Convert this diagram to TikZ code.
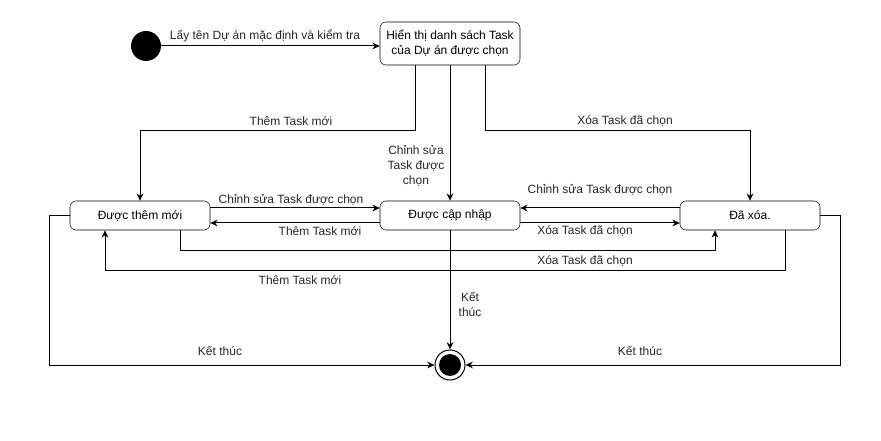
\documentclass[tikz,border=0pt]{standalone}
\usepackage{fontspec}
\setmainfont{Liberation Sans}
\usetikzlibrary{calc,arrows.meta}

\begin{document}
\begin{tikzpicture}[x = 0.75pt, y = -0.75pt, font = \fontsize{9pt}{11.2pt}\selectfont]
\tikzstyle{StateStyle}=[draw, rounded corners = 4.5pt,
                        minimum width = 105pt,
                        minimum height = 21.75pt,
                        align = center, inner sep = 2pt]
\tikzstyle{LabelStyle}=[align = center, inner sep = 1pt, text = black!85]
\tikzstyle{EdgeStyle}=[draw, line width = 0.75pt, -{Stealth[length = 5.5pt, width = 5pt]}]
\useasboundingbox (0,0) rectangle (881,441);
% states
\node[circle, fill, minimum size = 22.5pt, inner sep = 0pt] (start) at (146,46) {};
\node[StateStyle, minimum height = 32.25pt] (list) at (450,43.5) {Hiển thị danh sách Task\\của Dự án được chọn};
\node[StateStyle] (added) at (140,215.5) {Được thêm mới};
\node[StateStyle] (updated) at (450,215.5) {Được cập nhập};
\node[StateStyle] (deleted) at (750,215.5) {Đã xóa.};
\node[circle, draw, line width = 0.75pt, minimum size = 22.5pt, inner sep = 0pt,
      path picture = {\fill (path picture bounding box.center) circle (8.25pt);}] (stop) at (450,365) {};
% labels
\node[LabelStyle] (l0) at (265,36) {Lấy tên Dự án mặc định và kiểm tra};
\node[LabelStyle] (l1) at (291,121) {Thêm Task mới};
\node[LabelStyle] (l2) at (416,166) {Chỉnh sửa\\Task được\\chọn};
\node[LabelStyle] (l3) at (625,121) {Xóa Task đã chọn};
\node[LabelStyle] (l4) at (291,200) {Chỉnh sửa Task được chọn};
\node[LabelStyle] (l5) at (320,231) {Thêm Task mới};
\node[LabelStyle] (l6) at (600,190) {Chỉnh sửa Task được chọn};
\node[LabelStyle] (l7) at (585,231) {Xóa Task đã chọn};
\node[LabelStyle] (l8) at (585,261) {Xóa Task đã chọn};
\node[LabelStyle] (l9) at (300,280) {Thêm Task mới};
\node[LabelStyle] (l10) at (470,304) {Kết\\thúc};
\node[LabelStyle] (l11) at (220,351) {Kết thúc};
\node[LabelStyle] (l12) at (640,351) {Kết thúc};
% transitions
\draw[EdgeStyle] (start) -- (list.west |- start);
\draw[EdgeStyle] ($(list.south)+(-35,0)$) -- ++(0,65) -| (added.north);
\draw[EdgeStyle] (list.south) -- (updated.north);
\draw[EdgeStyle] ($(list.south)+(35,0)$) -- ++(0,65) -| (deleted.north);
\draw[EdgeStyle] ($(added.east)+(0,-7.5)$) -- ($(updated.west)+(0,-7.5)$);
\draw[EdgeStyle] ($(updated.west)+(0,7.5)$) -- ($(added.east)+(0,7.5)$);
\draw[EdgeStyle] ($(deleted.west)+(0,-7.5)$) -- ($(updated.east)+(0,-7.5)$);
\draw[EdgeStyle] ($(updated.east)+(0,7.5)$) -- ($(deleted.west)+(0,7.5)$);
\draw[EdgeStyle] ($(added.south)+(40,0)$) -- ++(0,20) -| ($(deleted.south)+(-35,0)$);
\draw[EdgeStyle] ($(deleted.south)+(35,0)$) -- ++(0,40) -| ($(added.south)+(-35,0)$);
\draw[EdgeStyle] (updated.south) -- (stop.north);
\draw[EdgeStyle] (added.west) -- ++(-20,0) |- (stop.west);
\draw[EdgeStyle] (deleted.east) -- ++(20,0) |- (stop.east);
\end{tikzpicture}
\end{document}
